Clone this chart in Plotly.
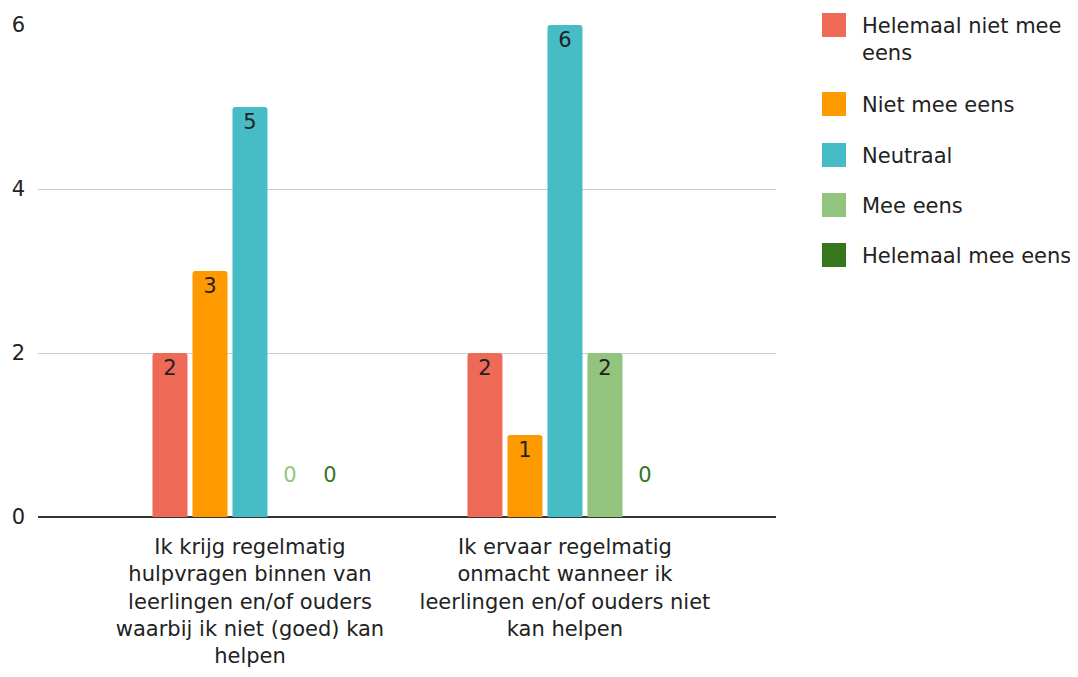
import plotly.graph_objects as go

# ---------------------------------------------------
# Data
# ---------------------------------------------------
categories = [
    "Ik krijg regelmatig<br>hulpvragen binnen van<br>leerlingen en/of ouders<br>waarbij ik niet (goed) kan<br>helpen",
    "Ik ervaar regelmatig<br>onmacht wanneer ik<br>leerlingen en/of ouders niet<br>kan helpen",
]
series_names = [
    "Helemaal niet mee eens",
    "Niet mee eens",
    "Neutraal",
    "Mee eens",
    "Helemaal mee eens",
]
legend_labels = [
    "Helemaal niet mee<br>eens",
    "Niet mee eens",
    "Neutraal",
    "Mee eens",
    "Helemaal mee eens",
]
helemaal_niet = [2, 2]
niet_mee = [3, 1]
neutraal = [5, 6]
mee_eens = [0, 2]
helemaal_mee = [0, 0]
series_values = [helemaal_niet, niet_mee, neutraal, mee_eens, helemaal_mee]
y_ticks = [0, 2, 4, 6]

COLORS = ["#EE6A57", "#FF9900", "#46BDC6", "#93C47D", "#38761D"]
FONT = "DejaVu Sans"
TEXT = "#222222"
FS = 21

# the page body adds 8px, so margins are set 8px smaller on the top/left
OFF = 8
W, H = 1078, 677
L, T = 38 - OFF, 25 - OFF
R, B = W - (776 - OFF), H - (517 - OFF)
PW, PH = W - L - R, H - T - B


def px_x(p):
    return (p - OFF - L) / PW


def px_y(p):
    return (H - B - (p - OFF)) / PH


fig = go.Figure()

for name, vals, col in zip(series_names, series_values, COLORS):
    fig.add_trace(go.Bar(
        name=name,
        x=[0, 1],
        y=vals,
        marker=dict(color=col, cornerradius=3, line=dict(width=0)),
        texttemplate=["%{y}" if v else "%{y}<br> " for v in vals],
        textposition=["inside" if v else "outside" for v in vals],
        insidetextanchor="end",
        textfont=dict(family=FONT, size=FS,
                      color=[TEXT if v else col for v in vals]),
        cliponaxis=False,
        showlegend=False,
        hoverinfo="skip",
    ))

# ---------------------------------------------------
# Legend (drawn by hand to get the large squares)
# ---------------------------------------------------
legend_y = [25, 104, 155, 205, 255]
for lbl, col, yy in zip(legend_labels, COLORS, legend_y):
    fig.add_shape(type="rect", xref="paper", yref="paper",
                  x0=px_x(822), x1=px_x(846),
                  y0=px_y(yy - 12), y1=px_y(yy + 12),
                  fillcolor=col, line=dict(width=0))
    fig.add_annotation(xref="paper", yref="paper",
                       x=px_x(860), y=px_y(yy - 13),
                       text=lbl, showarrow=False,
                       xanchor="left", yanchor="top", align="left",
                       font=dict(family=FONT, size=FS, color=TEXT))

fig.update_layout(
    width=W, height=H,
    margin=dict(l=L, r=R, t=T, b=B, autoexpand=False),
    barmode="group",
    bargap=0.365,
    bargroupgap=0.125,
    plot_bgcolor="white",
    paper_bgcolor="white",
    font=dict(family=FONT, size=FS, color=TEXT),
)

fig.update_xaxes(
    tickvals=[0, 1],
    ticktext=categories,
    range=[-0.673, 1.67],
    showgrid=False,
    showline=False,
    zeroline=False,
    ticks="",
    automargin=False,
    ticklabelstandoff=15,
    tickfont=dict(family=FONT, size=FS, color=TEXT),
)
fig.update_yaxes(
    range=[0, 6],
    tickvals=y_ticks,
    showgrid=True,
    gridcolor="#CCCCCC",
    gridwidth=1,
    zeroline=True,
    zerolinecolor="#333333",
    zerolinewidth=2,
    ticks="",
    automargin=False,
    ticklabelstandoff=12,
    tickfont=dict(family=FONT, size=FS, color=TEXT),
)

fig.write_html("out.html")
